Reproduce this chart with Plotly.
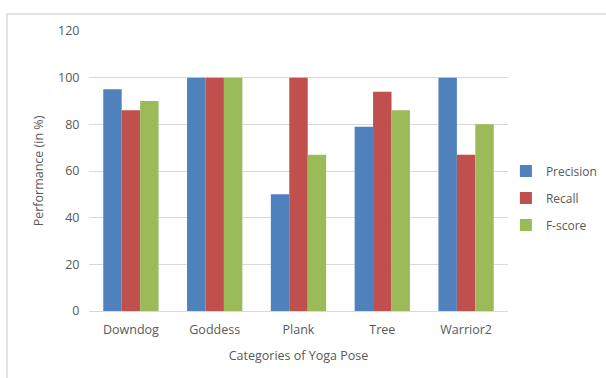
import plotly.graph_objects as go

categories = ["Downdog", "Goddess", "Plank", "Tree", "Warrior2"]
precision = [95, 100, 50, 79, 100]
recall = [86, 100, 100, 94, 67]
fscore = [90, 100, 67, 86, 80]
series_names = ["Precision", "Recall", "F-score"]
colors = ["#4F81BD", "#C0504D", "#9BBB59"]
y_ticks = [0, 20, 40, 60, 80, 100, 120]

fig = go.Figure()
for name, vals, col in zip(series_names, [precision, recall, fscore], colors):
    fig.add_trace(go.Bar(x=categories, y=vals, name=name, marker_color=col,
                         marker_line_width=0, legendgroup=name))

font_fam = "Open Sans, Liberation Sans, sans-serif"
fig.update_layout(
    width=606, height=378,
    margin=dict(l=89, r=98, t=31, b=67, autoexpand=False),
    paper_bgcolor="white", plot_bgcolor="white",
    barmode="group", bargap=0.34, bargroupgap=0,
    font=dict(family=font_fam, size=12, color="#595959"),
    xaxis=dict(title=dict(text="Categories of Yoga Pose", standoff=14, font=dict(size=12.5)),
               showline=True, linecolor="#D9D9D9", linewidth=1,
               ticks="outside", ticklen=7, tickcolor="rgba(0,0,0,0)",
               tickfont=dict(size=12.5), automargin=False),
    yaxis=dict(title=dict(text="Performance (in %)", standoff=11, font=dict(size=12.5)),
               range=[0, 120], tickvals=y_ticks, showgrid=True, gridcolor="#D9D9D9",
               gridwidth=1, zeroline=False, ticks="outside", ticklen=6,
               tickcolor="rgba(0,0,0,0)", tickfont=dict(size=12.5), automargin=False),
    legend=dict(x=0.995, y=0.404, xanchor="left", yanchor="middle",
                traceorder="grouped", tracegroupgap=8, font=dict(size=12),
                itemwidth=30, bgcolor="rgba(0,0,0,0)"),
    shapes=[dict(type="rect", xref="paper", yref="paper",
                 x0=-0.1957, x1=1.4, y0=-0.4, y1=1.0607,
                 line=dict(color="#D9D9D9", width=1.5), layer="below")],
)
fig.write_html("out.html")
